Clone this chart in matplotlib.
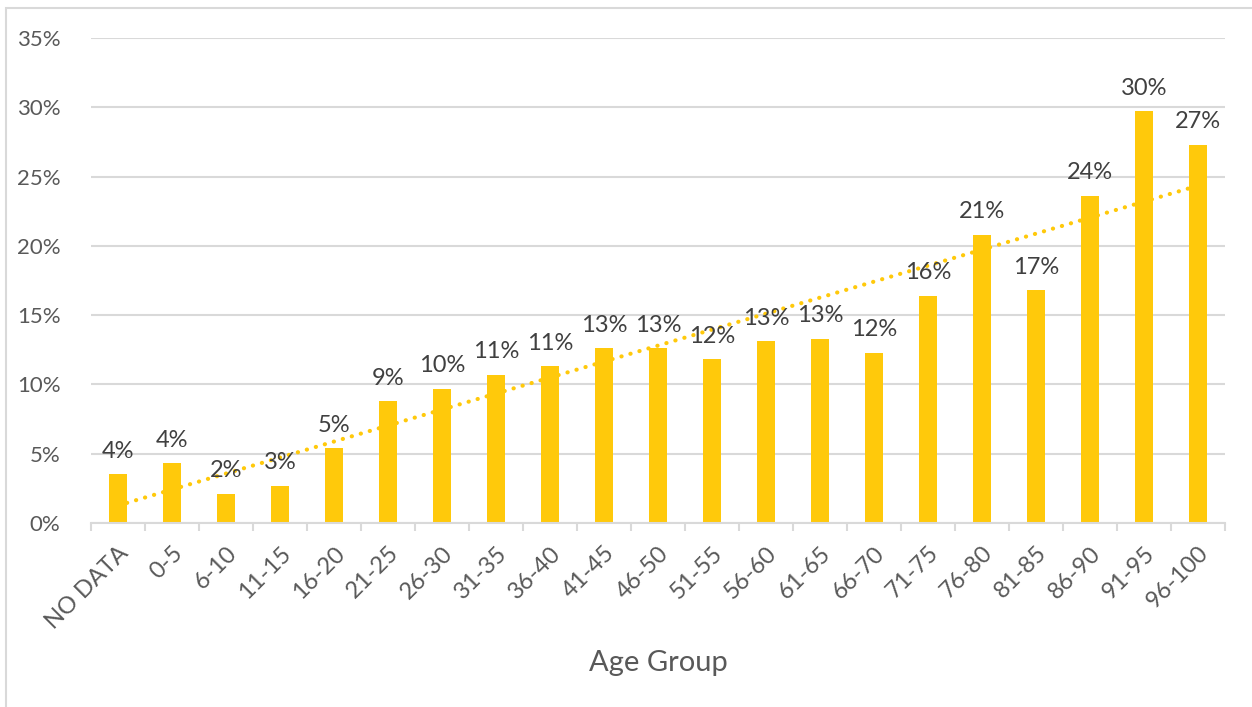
import numpy as np
import matplotlib
matplotlib.use("Agg")
import matplotlib.pyplot as plt
from matplotlib.patches import Rectangle

# Share of each age group (percent)
age_groups = ["NO DATA", "0-5", "6-10", "11-15", "16-20", "21-25", "26-30",
              "31-35", "36-40", "41-45", "46-50", "51-55", "56-60", "61-65",
              "66-70", "71-75", "76-80", "81-85", "86-90", "91-95", "96-100"]
values = [3.5, 4.3, 2.1, 2.7, 5.4, 8.8, 9.7, 10.7, 11.3, 12.6, 12.6, 11.8,
          13.1, 13.3, 12.3, 16.4, 20.8, 16.8, 23.6, 29.7, 27.3]
y_ticks = [0, 5, 10, 15, 20, 25, 30, 35]

bar_color = "#FFC90B"
text_color = "#595959"
label_color = "#404040"
grid_color = "#D9D9D9"

plt.rcParams["font.family"] = ["Lato", "DejaVu Sans"]

fig = plt.figure(figsize=(12.52, 7.07), dpi=100)
ax = fig.add_axes([0.0727, 0.2603, 0.9057, 0.686])

x = np.arange(len(age_groups))
ax.bar(x, values, width=0.32, color=bar_color, zorder=2)

# Linear trendline
slope, intercept = np.polyfit(x, values, 1)
ax.plot(x, slope * x + intercept, color=bar_color, linewidth=3.0,
        linestyle=(0, (0.05, 2.2)), dash_capstyle="round", zorder=3)

for xi, v in zip(x, values):
    ax.annotate(f"{v:.0f}%", (xi, v), xytext=(0, 9), textcoords="offset points",
                ha="center", va="bottom", fontsize=17, color=label_color,
                zorder=4)

ax.set_xlim(-0.5, len(age_groups) - 0.5)
ax.set_ylim(0, 35)
ax.set_yticks(y_ticks)
ax.set_yticklabels([f"{t}%" for t in y_ticks])
ax.yaxis.grid(True, color=grid_color, linewidth=1.5, zorder=0)
ax.tick_params(axis="y", length=0, labelsize=16, labelcolor=text_color, pad=22)

ax.set_xticks(x)
ax.set_xticklabels(age_groups, rotation=45, ha="right", rotation_mode="anchor")
ax.set_xticks(np.arange(-0.5, len(age_groups)), minor=True)
ax.tick_params(axis="x", which="major", length=0, labelsize=17,
               labelcolor=text_color, pad=14)
ax.tick_params(axis="x", which="minor", length=6, width=1.5, color=grid_color)
ax.set_xlabel("Age Group", fontsize=21, color=text_color, labelpad=12)

for side in ["top", "right", "left"]:
    ax.spines[side].set_visible(False)
ax.spines["bottom"].set_color(grid_color)
ax.spines["bottom"].set_linewidth(1.5)

# Outer chart border
fig.patches.append(Rectangle((6 / 1252, -0.1), 1.2, 1 - 8 / 707 + 0.1,
                             transform=fig.transFigure, fill=False,
                             edgecolor=grid_color, linewidth=1.5))

fig.savefig("out.png", dpi=100)
